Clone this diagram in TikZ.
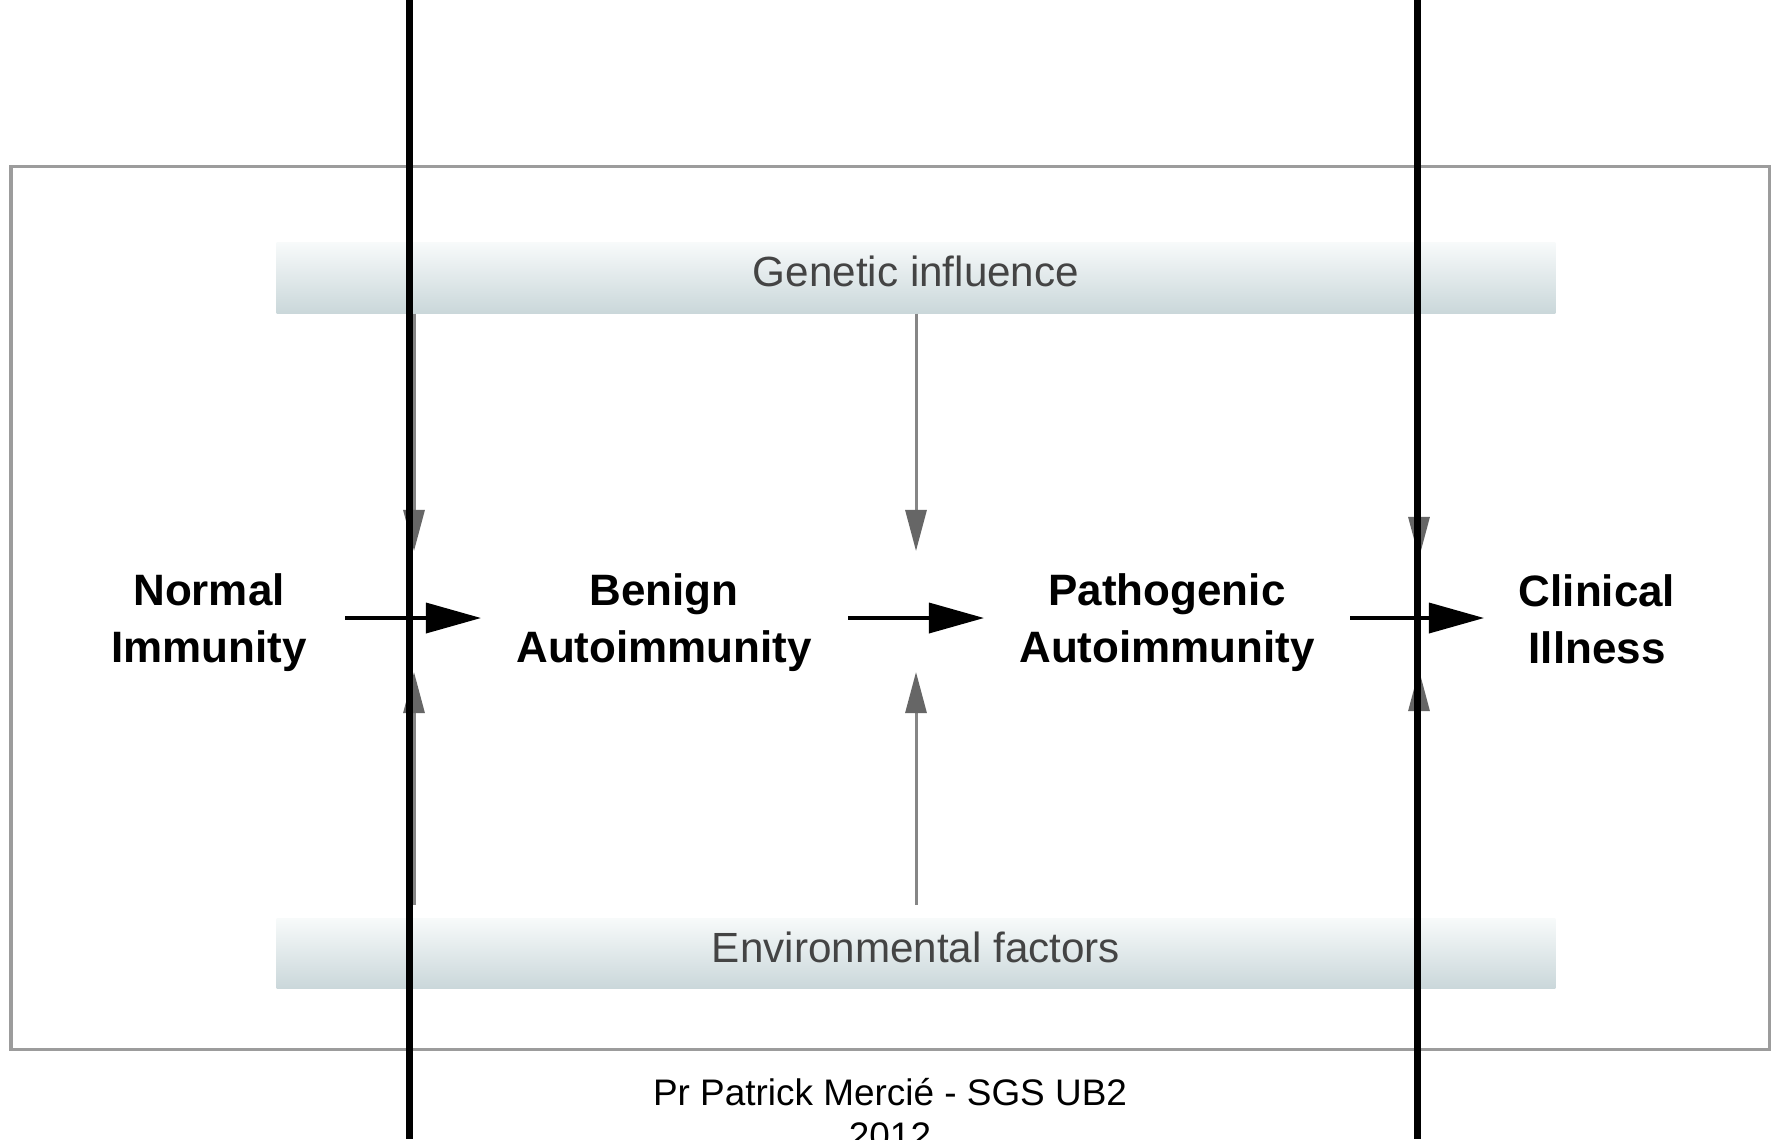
\documentclass[tikz,border=0pt]{standalone}
\usepackage{fontspec}
\setmainfont{Liberation Sans}
\usetikzlibrary{arrows.meta}
\definecolor{bartop}{HTML}{F7FAFA}
\definecolor{barbot}{HTML}{CAD7DA}
\definecolor{framegray}{HTML}{9C9C9C}
\definecolor{garrow}{HTML}{868686}
\definecolor{ghead}{HTML}{666666}
\definecolor{bartext}{HTML}{444444}
\begin{document}
\begin{tikzpicture}[x=0.01cm, y=-0.01cm,
  bar/.style={minimum width=12.78cm, minimum height=0.70cm, inner sep=0pt,
    top color=bartop, bottom color=barbot, draw=none, text=bartext,
    font=\fontsize{12}{14}\selectfont, text depth=0.13cm},
  stage/.style={align=center, inner sep=0pt,
    font=\fontsize{12.5}{16.2}\selectfont\bfseries},
  flow/.style={line width=0.035cm, -{Triangle[length=0.55cm, width=0.30cm]}},
  influence/.style={draw=garrow, line width=0.03cm,
    -{Triangle[length=0.41cm, width=0.21cm, color=ghead]}},
  divider/.style={line width=0.07cm, black},
  panel/.style={draw=framegray, line width=0.03cm},
  footer/.style={align=center, inner sep=0pt, font=\fontsize{10.5}{12.2}\selectfont}
]
\useasboundingbox (0,0) rectangle (1773,1139);
\clip (0,0) rectangle (1773,1139);
\fill[white] (0,0) rectangle (1773,1139);

% outer frame
\draw[panel] (11,166) rectangle (1769,1049);

% bars
\node[bar] (gen) at (916,278) {Genetic influence};
\node[bar] (env) at (916,953.5) {Environmental factors};

% stages
\node[stage] (normal) at (209,623) {Normal\\Immunity};
\node[stage] (benign) at (664,623) {Benign\\Autoimmunity};
\node[stage] (patho) at (1167,623) {Pathogenic\\Autoimmunity};
\node[stage] (clinical) at (1597,619) {Clinical\\Illness};

% influence arrow tips
\coordinate (t1) at (414,551);
\coordinate (b1) at (414,672);
\coordinate (t2) at (916,551);
\coordinate (b2) at (916,672);
\coordinate (t3) at (1419,558);
\coordinate (b3) at (1419,670);

\draw[influence] (gen.south -| t1) -- (t1);
\draw[influence] (gen.south -| t2) -- (t2);
\draw[influence] (gen.south -| t3) -- (t3);
\draw[influence] ([yshift=0.13cm]env.north -| b1) -- (b1);
\draw[influence] ([yshift=0.13cm]env.north -| b2) -- (b2);
\draw[influence] ([yshift=0.13cm]env.north -| b3) -- (b3);

% dividers
\coordinate (d1t) at (409,0);
\coordinate (d1b) at (409,1139);
\coordinate (d2t) at (1417,0);
\coordinate (d2b) at (1417,1139);
\draw[divider] (d1t) -- (d1b);
\draw[divider] (d2t) -- (d2b);

% flow arrows
\coordinate (f1s) at (345,618);
\coordinate (f1e) at (481,618);
\coordinate (f2s) at (848,618);
\coordinate (f2e) at (984,618);
\coordinate (f3s) at (1350,618);
\coordinate (f3e) at (1484,618);
\draw[flow] (f1s) -- (f1e);
\draw[flow] (f2s) -- (f2e);
\draw[flow] (f3s) -- (f3e);

% footer
\node[footer, anchor=north] (credit) at (890,1078) {Pr Patrick Merci\'e - SGS UB2\\2012};
\end{tikzpicture}
\end{document}
